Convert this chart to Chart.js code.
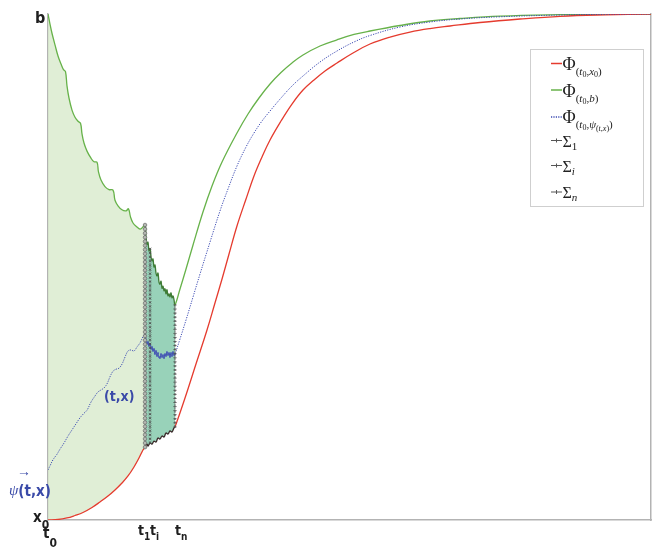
<!DOCTYPE html>
<html>
<head>
<meta charset="utf-8">
<script src="https://cdn.jsdelivr.net/npm/chart.js@4/dist/chart.umd.min.js"></script>
<style>
  html, body { margin: 0; padding: 0; background: #ffffff; }
  canvas { display: block; }
</style>
</head>
<body>
<canvas id="flow" width="656" height="549"></canvas>
<script>
// Flow of the lower initial value x0
const redT = [0, 1.66, 3.15, 4.48, 5.80, 7.30, 8.62, 9.95, 11.11, 12.27, 13.27, 14.26, 15.09, 15.75,
  16.09, 16.42, 16.58, 16.92, 17.25, 17.58, 17.91, 18.24, 18.57, 18.91, 19.24, 19.57, 19.90, 20.23, 20.56, 20.90,
  21.06, 22.72, 24.54, 26.37, 27.69, 28.86, 30.02, 31.34, 32.84, 34.16, 35.49, 36.82, 38.64, 40.46, 42.29,
  44.11, 45.94, 47.93, 50.58, 53.40, 56.72, 60.03, 63.35, 66.67, 71.64, 78.28, 84.91, 92.37, 100];
const redY = [0, 0.10, 0.40, 0.89, 1.48, 2.47, 3.56, 4.74, 5.93, 7.31, 8.70, 10.47, 12.25, 13.83,
  14.4, 15.0, 14.6, 15.2, 15.0, 15.6, 15.4, 16.2, 16.0, 16.6, 16.4, 17.2, 17.0, 17.6, 17.4, 18.2,
  18.38, 24.11, 30.83, 37.55, 42.89, 47.63, 52.57, 58.10, 63.44, 67.98, 71.74, 75.10, 78.85, 82.21, 84.98,
  86.96, 88.74, 90.32, 92.29, 94.07, 95.45, 96.44, 97.13, 97.63, 98.32, 99.01, 99.55, 99.84, 100];

// Flow of the upper initial value b
const greenT = [0, 0.33, 0.66, 1.16, 1.66, 2.16, 2.57, 2.90, 3.15, 3.48, 3.98, 4.48, 4.98, 5.39,
  5.64, 5.97, 6.47, 7.13, 7.63, 8.13, 8.37, 8.79, 9.45, 10.12, 10.78, 11.11, 11.61, 12.27, 12.94, 13.35,
  13.68, 14.10, 14.76, 15.26, 15.59, 16.09,
  16.25, 16.42, 16.58, 16.75, 16.92, 17.08, 17.25, 17.41, 17.58, 17.74, 17.91, 18.08, 18.24, 18.41, 18.57,
  18.74, 18.91, 19.07, 19.24, 19.40, 19.57, 19.73, 19.90, 20.07, 20.23, 20.40, 20.56, 20.73, 20.90, 21.06,
  21.89, 22.89, 24.05, 25.70, 27.20, 28.86, 31.34, 33.17, 34.99, 36.82, 38.64, 40.46, 42.29, 45.11, 47.93,
  50.75, 53.40, 58.37, 63.35, 68.33, 74.96, 84.91, 92.37, 100];
const greenY = [100, 98.0, 96.2, 93.9, 91.7, 90.1, 89.0, 88.6, 85.8, 83.4, 81.0, 79.6, 78.8, 78.4,
  76.3, 74.5, 72.9, 71.5, 70.8, 70.7, 68.8, 67.2, 65.9, 65.3, 65.2, 63.2, 62.1, 61.3, 61.1, 61.5,
  59.9, 58.7, 57.9, 57.5, 57.7, 58.3,
  56.1, 54.5, 54.9, 53.2, 53.6, 52.0, 51.2, 51.6, 50.0, 50.4, 48.8, 48.2, 48.8, 47.0, 46.6,
  47.2, 45.8, 46.2, 45.3, 45.7, 44.7, 45.5, 44.3, 44.7, 44.1, 44.9, 43.9, 44.3, 43.5, 42.5,
  45.65, 49.60, 54.35, 60.87, 66.01, 70.75, 76.48, 80.24, 83.40, 86.17, 88.44, 90.32, 91.90, 93.68, 94.90,
  95.95, 96.64, 97.73, 98.62, 99.11, 99.57, 99.86, 99.96, 100];

// Flow through the intermediate state psi(t,x)
const blueT = [0, 0.33, 0.83, 1.49, 1.99, 2.65, 3.32, 3.98, 4.64, 5.31, 5.97, 6.47, 7.13, 7.79, 8.29, 8.79,
  9.29, 9.78, 10.28, 10.78, 11.28, 11.77, 12.27, 12.77, 13.27, 13.76, 14.26, 14.76, 15.26, 15.75, 16.09,
  16.25, 16.42, 16.58, 16.75, 16.92, 17.08, 17.25, 17.41, 17.58, 17.74, 17.91, 18.08, 18.24, 18.41, 18.57,
  18.74, 18.91, 19.07, 19.24, 19.40, 19.57, 19.73, 19.90, 20.07, 20.23, 20.40, 20.56, 20.73, 20.90, 21.06,
  21.89, 22.89, 24.05, 25.21, 26.87, 28.52, 29.85, 31.34, 32.84, 34.16, 35.49, 36.82, 38.64, 40.46, 42.29,
  45.11, 47.93, 50.75, 53.40, 58.37, 63.35, 68.33, 74.96, 84.91, 92.37, 100];
const blueY = [9.9, 10.7, 11.9, 13.0, 14.0, 15.2, 16.6, 17.8, 19.0, 20.2, 21.1, 21.7, 23.3, 24.5, 25.3, 25.7,
  26.1, 26.9, 28.3, 29.4, 29.8, 30.0, 30.8, 32.2, 33.4, 33.6, 33.4, 34.2, 35.0, 36.2, 36.8,
  35.6, 34.8, 35.2, 34.4, 34.8, 33.8, 34.2, 33.4, 33.8, 32.8, 33.4, 32.4, 33.0, 32.2, 32.0,
  32.8, 32.2, 32.6, 32.0, 32.8, 32.4, 33.2, 32.6, 33.0, 32.2, 33.0, 32.4, 33.2, 32.6, 32.8,
  35.77, 39.53, 44.07, 48.62, 54.94, 61.07, 65.42, 69.96, 73.72, 76.48, 78.85, 80.83, 83.40, 85.77, 87.75,
  90.51, 92.69, 94.47, 95.75, 97.43, 98.42, 99.01, 99.45, 99.80, 99.94, 100];

// Sections Sigma_1, Sigma_i, Sigma_n: time, lower and upper end
const sigmaNames = ['1', 'i', 'n'];
const sigmaT = [16.09, 16.92, 21.06];
const sigmaLow = [14.4, 15.2, 18.4];
const sigmaHigh = [58.3, 53.6, 42.5];

const t1 = sigmaT[0], tn = sigmaT[2];
const zip = (xs, ys) => xs.map((x, i) => ({ x: x, y: ys[i] }));
const between = (pts, a, b) => pts.filter(p => p.x >= a - 1e-9 && p.x <= b + 1e-9);

const redPts = zip(redT, redY);
const greenPts = zip(greenT, greenY);
const bluePts = zip(blueT, blueY);

const RED = '#e53b2e', GREEN = '#67b24a', BLUE = '#3b4ab2';
const TENSION = 0.4;
const inBand = ctx => ctx.p0.parsed.x >= t1 - 1e-9 && ctx.p1.parsed.x <= tn + 1e-9;

const sigmaStyles = [
  { marker: 'circle', radius: 1.8, fill: '#b4b8b2', stroke: '#6a6a6a' },
  { marker: 'crossRot', radius: 1.4, fill: null, stroke: '#4a4a4a' },
  { marker: 'cross', radius: 1.7, fill: null, stroke: '#4a4a4a' }
];

const hidden = { borderWidth: 0, pointRadius: 0, tension: TENSION };

const datasets = [
  // shaded tube between the two extreme flows
  Object.assign({ label: 'tubeTopA', data: between(greenPts, 0, t1), fill: 1,
    backgroundColor: 'rgba(214,232,200,0.75)', order: 10 }, hidden),
  Object.assign({ label: 'tubeBotA', data: between(redPts, 0, t1), fill: false, order: 10 }, hidden),
  Object.assign({ label: 'tubeTopB', data: between(greenPts, t1, tn), fill: 3,
    backgroundColor: '#98d2b9', order: 10 }, hidden),
  Object.assign({ label: 'tubeBotB', data: between(redPts, t1, tn), fill: false, order: 10 }, hidden),
  {
    label: 'red', data: redPts, borderColor: RED, borderWidth: 1.3, pointRadius: 0, fill: false,
    tension: TENSION, order: 2,
    segment: { borderColor: ctx => inBand(ctx) ? '#3b2b2b' : undefined }
  },
  {
    label: 'green', data: greenPts, borderColor: GREEN, borderWidth: 1.3, pointRadius: 0, fill: false,
    tension: TENSION, order: 2,
    segment: { borderColor: ctx => inBand(ctx) ? '#3f7c36' : undefined }
  },
  {
    label: 'blue', data: bluePts, borderColor: BLUE, borderWidth: 1.0, fill: false,
    borderDash: [1.2, 1.3], tension: TENSION, order: 1,
    pointStyle: 'crossRot', pointBorderColor: '#4656b8', pointBorderWidth: 0.7,
    pointRadius: ctx => (ctx.raw && ctx.raw.x > t1 && ctx.raw.x <= tn) ? 1.2 : 0,
    segment: { borderDash: ctx => inBand(ctx) ? [] : undefined }
  }
];

sigmaT.forEach((t, i) => {
  datasets.push({
    label: 'sigma' + sigmaNames[i],
    data: [{ x: t, y: sigmaLow[i] }, { x: t, y: sigmaHigh[i] }],
    borderColor: '#555555', borderWidth: 0.9, borderDash: [2, 1.5], pointRadius: 0, fill: false,
    order: 0, sigmaStyle: sigmaStyles[i]
  });
});

function drawMarker(ctx, style, x, y) {
  const r = style.radius;
  ctx.beginPath();
  if (style.marker === 'circle') {
    ctx.arc(x, y, r, 0, Math.PI * 2);
    if (style.fill) { ctx.fillStyle = style.fill; ctx.fill(); }
    ctx.stroke();
    return;
  }
  if (style.marker === 'cross') {
    ctx.moveTo(x - r, y); ctx.lineTo(x + r, y);
    ctx.moveTo(x, y - r * 0.6); ctx.lineTo(x, y + r * 0.6);
  } else {
    ctx.moveTo(x - r, y - r * 0.7); ctx.lineTo(x + r, y + r * 0.7);
    ctx.moveTo(x - r, y + r * 0.7); ctx.lineTo(x + r, y - r * 0.7);
  }
  ctx.stroke();
}

// markers spaced evenly along each section
const sectionMarkers = {
  id: 'sectionMarkers',
  afterDatasetsDraw(chart) {
    const ctx = chart.ctx;
    chart.data.datasets.forEach((ds, i) => {
      if (!ds.sigmaStyle) return;
      const pts = chart.getDatasetMeta(i).data;
      const a = pts[0], b = pts[pts.length - 1];
      const len = Math.hypot(b.x - a.x, b.y - a.y);
      const n = Math.max(1, Math.round(len / 4.1));
      ctx.save();
      ctx.strokeStyle = ds.sigmaStyle.stroke;
      ctx.lineWidth = 0.7;
      for (let k = 0; k <= n; k++) {
        const f = k / n;
        drawMarker(ctx, ds.sigmaStyle, a.x + (b.x - a.x) * f, a.y + (b.y - a.y) * f);
      }
      ctx.restore();
    });
  }
};

const SANS = '"Liberation Sans Narrow", "DejaVu Sans Condensed", "Roboto", sans-serif';
const SERIF = '"Liberation Serif", "DejaVu Serif", serif';

function runs(ctx, x, y, parts) {
  parts.forEach(p => {
    ctx.font = p.f;
    if (p.c) ctx.fillStyle = p.c;
    ctx.fillText(p.t, x, y + (p.dy || 0));
    x += ctx.measureText(p.t).width + (p.sp || 0);
  });
  return x;
}

// axis annotations and the phi-symbol legend
const annotations = {
  id: 'annotations',
  afterDraw(chart) {
    const ctx = chart.ctx;
    const xs = chart.scales.x, ys = chart.scales.y;
    const left = xs.getPixelForValue(0);
    const bottom = ys.getPixelForValue(0);
    ctx.save();
    ctx.textBaseline = 'alphabetic';
    ctx.textAlign = 'left';
    ctx.fillStyle = '#1e1e1e';

    // b at the top of the vertical axis
    const bold = s => 'bold ' + s + 'px ' + SANS;
    runs(ctx, left - 13, ys.getPixelForValue(100) + 9, [{ t: 'b', f: bold(16) }]);
    // x0 and t0 at the origin
    runs(ctx, left - 15, bottom + 2, [{ t: 'x', f: bold(15) }, { t: '0', f: bold(12), dy: 7 }]);
    runs(ctx, left - 5, bottom + 18, [{ t: 't', f: bold(15) }, { t: '0', f: bold(12), dy: 9 }]);
    // section times
    const shifts = [-7, 0, 0];
    sigmaT.forEach((t, i) => {
      const px = xs.getPixelForValue(t) + shifts[i];
      runs(ctx, px, bottom + 15, [{ t: 't', f: bold(14) }, { t: sigmaNames[i], f: bold(10), dy: 5 }]);
    });

    // blue labels of the intermediate state
    ctx.fillStyle = '#3a4aa8';
    runs(ctx, 104, 401, [{ t: '(t,x)', f: bold(14) }]);
    runs(ctx, 9, 495, [{ t: 'ψ', f: 'italic 15px ' + SERIF }, { t: '(t,x)', f: bold(15), dy: 1 }]);
    ctx.font = '14px ' + SERIF;
    ctx.fillText('→', 17, 476);

    // legend box
    const L = 530, T = 49, W = 113, H = 157;
    ctx.fillStyle = '#ffffff';
    ctx.fillRect(L, T, W, H);
    ctx.strokeStyle = '#cfcfcf';
    ctx.lineWidth = 1;
    ctx.strokeRect(L + 0.5, T + 0.5, W, H);

    const sx0 = 551, sx1 = 562, tx = 562.5;
    const big = '18px ' + SERIF, sub = '11px ' + SERIF, subI = 'italic 11px ' + SERIF;
    const tiny = '8px ' + SERIF, tinyI = 'italic 8px ' + SERIF;
    ctx.fillStyle = '#222222';

    const legendLine = (y, color, dash) => {
      ctx.save();
      ctx.strokeStyle = color; ctx.lineWidth = 1.5; ctx.setLineDash(dash || []);
      ctx.beginPath(); ctx.moveTo(sx0, y); ctx.lineTo(sx1, y); ctx.stroke();
      ctx.restore();
    };

    legendLine(63.5, RED);
    runs(ctx, tx, 70, [{ t: 'Φ', f: big }, { t: '(', f: sub, dy: 5 }, { t: 't', f: subI, dy: 5 },
      { t: '0', f: tiny, dy: 7 }, { t: ',', f: sub, dy: 5 }, { t: 'x', f: subI, dy: 5 },
      { t: '0', f: tiny, dy: 7 }, { t: ')', f: sub, dy: 5 }]);
    legendLine(90, GREEN);
    runs(ctx, tx, 96.5, [{ t: 'Φ', f: big }, { t: '(', f: sub, dy: 5 }, { t: 't', f: subI, dy: 5 },
      { t: '0', f: tiny, dy: 7 }, { t: ',', f: sub, dy: 5 }, { t: 'b', f: subI, dy: 5 },
      { t: ')', f: sub, dy: 5 }]);
    legendLine(117, BLUE, [1.2, 1.2]);
    runs(ctx, tx, 123, [{ t: 'Φ', f: big }, { t: '(', f: sub, dy: 5 }, { t: 't', f: subI, dy: 5 },
      { t: '0', f: tiny, dy: 7 }, { t: ',', f: sub, dy: 5 }, { t: 'ψ', f: subI, dy: 5 },
      { t: '(', f: tiny, dy: 8 }, { t: 't', f: tinyI, dy: 8 }, { t: ',', f: tiny, dy: 8 },
      { t: 'x', f: tinyI, dy: 8 }, { t: ')', f: tiny, dy: 8 }, { t: ')', f: sub, dy: 5 }]);

    const sigY = [140.5, 165.5, 192];
    sigmaNames.forEach((nm, i) => {
      const y = sigY[i];
      ctx.save();
      ctx.strokeStyle = '#555555'; ctx.lineWidth = 1;
      ctx.beginPath(); ctx.moveTo(sx0, y); ctx.lineTo(sx1, y); ctx.stroke();
      ctx.beginPath(); ctx.moveTo(556.5, y - 2); ctx.lineTo(556.5, y + 2); ctx.stroke();
      ctx.restore();
      runs(ctx, tx, y + 6, [{ t: 'Σ', f: '16px ' + SERIF },
        { t: nm, f: (nm === '1' ? '' : 'italic ') + '11px ' + SERIF, dy: 3 }]);
    });
    ctx.restore();
  }
};

const axisBorder = { display: true, color: '#b3b3b3', width: 1.5 };
const bareAxis = extra => Object.assign({
  type: 'linear', min: 0, max: 100,
  ticks: { display: false },
  grid: { display: false, drawTicks: false },
  border: axisBorder
}, extra);

new Chart(document.getElementById('flow'), {
  type: 'line',
  data: { datasets: datasets },
  options: {
    responsive: false,
    animation: false,
    events: [],
    layout: { padding: { left: 48, top: 14, right: 5, bottom: 29 } },
    scales: {
      x: bareAxis({ position: 'bottom' }),
      y: bareAxis({ position: 'left' }),
      yRight: bareAxis({ position: 'right' })
    },
    plugins: {
      legend: { display: false },
      tooltip: { enabled: false },
      filler: { drawTime: 'beforeDatasetsDraw', propagate: false }
    }
  },
  plugins: [sectionMarkers, annotations]
});
</script>
</body>
</html>
